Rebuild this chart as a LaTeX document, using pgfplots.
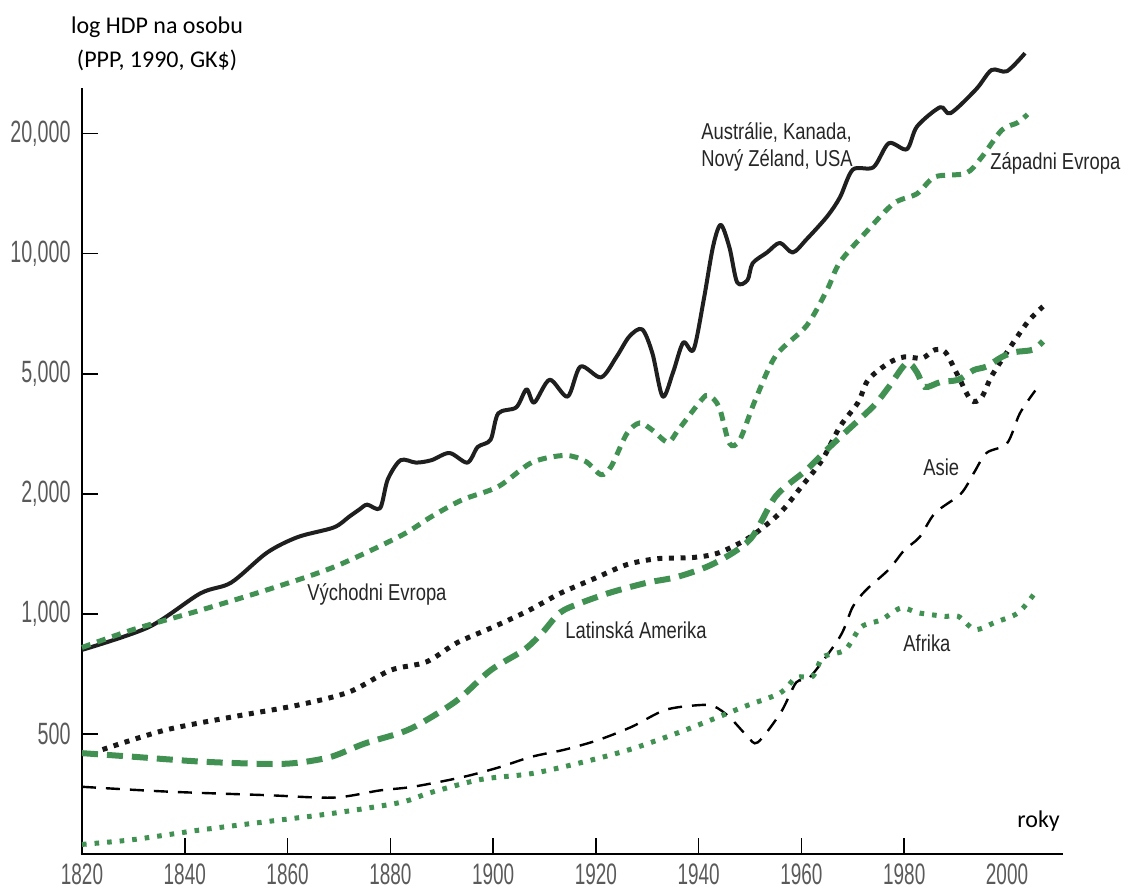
\documentclass[border=0pt]{standalone}
\usepackage{fontspec}
\usepackage{pgfplots}
\pgfplotsset{compat=1.18}
\setmainfont{Liberation Sans}
\newfontfamily\titlefont{Carlito}
\newfontfamily\tickfont[FakeStretch=0.64]{Liberation Sans}
\newfontfamily\labfont[FakeStretch=0.8]{Liberation Sans}
\definecolor{grn}{RGB}{64,145,82}
\definecolor{tickgray}{RGB}{90,90,90}
\begin{document}
\begin{tikzpicture}
\path[use as bounding box] (-41pt,-18pt) rectangle (530.5pt,427pt);
\begin{axis}[
  scale only axis, width=490.5pt, height=383pt,
  xmin=1820, xmax=2010.9, ymin=-1, ymax=5.38,
  axis lines=left, axis line style={-, line width=1.4pt},
  x axis line style={draw=none},
  clip=false,
  xtick={1840,1860,1880,1900,1920,1940,1960,1980},
  xticklabels={1840,1860,1880,1900,1920,1940,1960,1980},
  extra x ticks={1820,2000}, extra x tick labels={1820,2000},
  extra x tick style={major tick length=0pt},
  ytick={0,1,2,3,4,5},
  yticklabels={500,{1,000},{2,000},{5,000},{10,000},{20,000}},
  tick align=inside, major tick length=8pt,
  tick style={line width=0.8pt, black},
  xticklabel style={font=\tickfont\fontsize{14.8}{15}\selectfont, text=tickgray, anchor=north, inner sep=0pt, yshift=-4.5pt},
  yticklabel style={font=\tickfont\fontsize{15.4}{16}\selectfont, text=tickgray, anchor=east, inner sep=0pt, xshift=-5.5pt},
]
% Western offshoots (solid black)
\addplot[black!88, line width=2pt, smooth, tension=0.5, line join=round] coordinates {
(1820,0.70) (1833,0.89) (1843,1.17) (1849,1.26) (1856,1.51) (1862,1.64) (1869,1.72) (1872,1.81) (1874,1.87) (1875.5,1.91) (1878,1.88) (1879.5,2.12) (1882,2.28) (1885,2.26) (1888,2.28) (1891.5,2.34) (1895,2.26) (1897,2.39) (1899.5,2.45) (1901,2.67) (1904.5,2.72) (1906.5,2.87) (1908,2.76) (1911,2.95) (1914.5,2.81) (1917,3.06) (1921,2.97) (1924,3.14) (1926.5,3.31) (1929,3.37) (1931,3.17) (1933,2.81) (1935,3.01) (1937,3.26) (1939,3.2) (1941,3.62) (1942.8,4.06) (1944.3,4.24) (1946,4.05) (1947.5,3.76) (1949.5,3.78) (1950.5,3.92) (1953.3,4.01) (1955.8,4.09) (1958.3,4.01) (1961,4.12) (1965,4.31) (1967.5,4.47) (1970,4.70) (1974,4.72) (1977,4.92) (1980.5,4.87) (1982.5,5.06) (1987,5.22) (1989,5.17) (1994,5.37) (1997,5.53) (2000,5.52) (2003.5,5.67)
};
% Western Europe (green dashed)
\addplot[grn, line width=2.5pt, smooth, dash pattern=on 4.5pt off 3.5pt] coordinates {
(1820,0.72) (1830,0.87) (1843,1.03) (1856,1.2) (1869,1.39) (1882,1.65) (1888,1.81) (1894,1.95) (1901,2.06) (1907.5,2.26) (1914,2.32) (1918,2.27) (1921,2.16) (1923,2.23) (1926,2.5) (1928.5,2.59) (1931,2.53) (1934,2.43) (1936,2.53) (1940.5,2.78) (1942,2.82) (1944,2.72) (1946,2.42) (1948,2.45) (1951,2.78) (1955,3.15) (1961,3.4) (1965,3.7) (1967.5,3.93) (1973,4.2) (1978,4.42) (1982.5,4.5) (1986,4.64) (1992,4.67) (1995,4.8) (1999,5.03) (2002,5.09) (2004,5.16)
};
% Eastern Europe (black dotted)
\addplot[black!90, line width=2.5pt, smooth, dash pattern=on 2.5pt off 3.3pt] coordinates {
(1824,-0.13) (1836,0.03) (1849,0.14) (1862,0.24) (1872,0.35) (1880,0.53) (1887,0.6) (1893,0.76) (1900,0.89) (1907,1.03) (1913,1.17) (1920,1.3) (1926,1.41) (1932,1.46) (1939,1.47) (1944,1.51) (1950,1.64) (1955.8,1.84) (1960,2.06) (1964,2.28) (1967.5,2.56) (1971,2.76) (1973,2.95) (1977,3.09) (1980,3.14) (1983.5,3.13) (1986,3.2) (1988,3.18) (1990.5,2.98) (1993,2.78) (1995,2.8) (1997,2.98) (2000,3.18) (2004,3.43) (2007,3.56)
};
% Latin America (green long dashes)
\addplot[grn, line width=3pt, smooth, dash pattern=on 8pt off 4.5pt] coordinates {
(1820,-0.16) (1830,-0.19) (1843,-0.23) (1856,-0.25) (1862,-0.24) (1868.5,-0.19) (1875,-0.08) (1882,0.01) (1886,0.09) (1893,0.28) (1899.5,0.53) (1906,0.7) (1909.5,0.84) (1913,1.01) (1917,1.09) (1923,1.18) (1930,1.26) (1936,1.31) (1943,1.42) (1950,1.62) (1955,1.98) (1961,2.2) (1965.5,2.39) (1969,2.53) (1974,2.73) (1977,2.89) (1980.5,3.09) (1982.5,3.01) (1984,2.89) (1987,2.93) (1990.5,2.95) (1993.5,3.03) (1996,3.06) (1999,3.14) (2001.5,3.18) (2005,3.2) (2007,3.27)
};
% Asia (thin black dashed)
\addplot[black, line width=1.2pt, smooth, dash pattern=on 7pt off 5pt] coordinates {
(1820,-0.44) (1836.5,-0.48) (1856,-0.51) (1869,-0.53) (1878,-0.47) (1884.4,-0.44) (1894,-0.36) (1901,-0.28) (1907.5,-0.19) (1914,-0.13) (1920.5,-0.05) (1927,0.06) (1933.5,0.2) (1940,0.24) (1943,0.23) (1946,0.14) (1949.5,-0.02) (1951.5,-0.07) (1956,0.18) (1959,0.43) (1961.6,0.47) (1967.5,0.81) (1970,1.06) (1972.6,1.2) (1977,1.37) (1980,1.53) (1983,1.64) (1986,1.84) (1991,2.0) (1993.5,2.17) (1996,2.34) (2000,2.42) (2002.5,2.67) (2005.5,2.86)
};
% Africa (green dotted)
\addplot[grn, line width=2.5pt, smooth, dash pattern=on 2.3pt off 4pt] coordinates {
(1820,-0.92) (1830,-0.88) (1843,-0.8) (1856,-0.73) (1869,-0.66) (1882,-0.57) (1887.7,-0.49) (1897.5,-0.38) (1907.5,-0.33) (1917,-0.24) (1926.6,-0.13) (1936,0.01) (1942.6,0.12) (1949,0.23) (1955.8,0.34) (1959,0.47) (1962.2,0.48) (1964.2,0.64) (1968.5,0.7) (1971.6,0.89) (1975.5,0.95) (1979.4,1.05) (1982.6,1.01) (1987.9,0.98) (1990.5,0.98) (1993.8,0.87) (1997.7,0.93) (2002.2,1.01) (2005.5,1.18)
};
\end{axis}
% x axis line (thick up to ~1998, thin beyond)
\draw[line width=1.4pt] (-0.7pt,0pt) -- (457.5pt,0pt);
\draw[line width=0.6pt] (457.5pt,0pt) -- (490.5pt,0pt);
% titles
\node[anchor=base, inner sep=0pt, font=\titlefont\fontsize{12}{14}\selectfont] at (37.5pt,410pt) {log HDP na osobu};
\node[anchor=base, inner sep=0pt, font=\titlefont\fontsize{12}{14}\selectfont] at (37.5pt,393pt) {(PPP, 1990, GK\$)};
\node[anchor=base west, inner sep=0pt, font=\titlefont\fontsize{12}{14}\selectfont] at (467.5pt,13.5pt) {roky};
% series labels
\begin{scope}[every node/.style={anchor=base west, inner sep=0pt, text=black!85, font=\labfont\fontsize{11.5}{13}\selectfont}]
\node at (309.5pt,357pt) {Austrálie, Kanada,};
\node at (309.5pt,343.5pt) {Nový Zéland, USA};
\node at (454pt,342pt) {Západni Evropa};
\node at (112.5pt,127pt) {Východni Evropa};
\node at (241.5pt,108pt) {Latinská Amerika};
\node at (420.5pt,189.5pt) {Asie};
\node at (410.5pt,101.5pt) {Afrika};
\end{scope}
\end{tikzpicture}
\end{document}
